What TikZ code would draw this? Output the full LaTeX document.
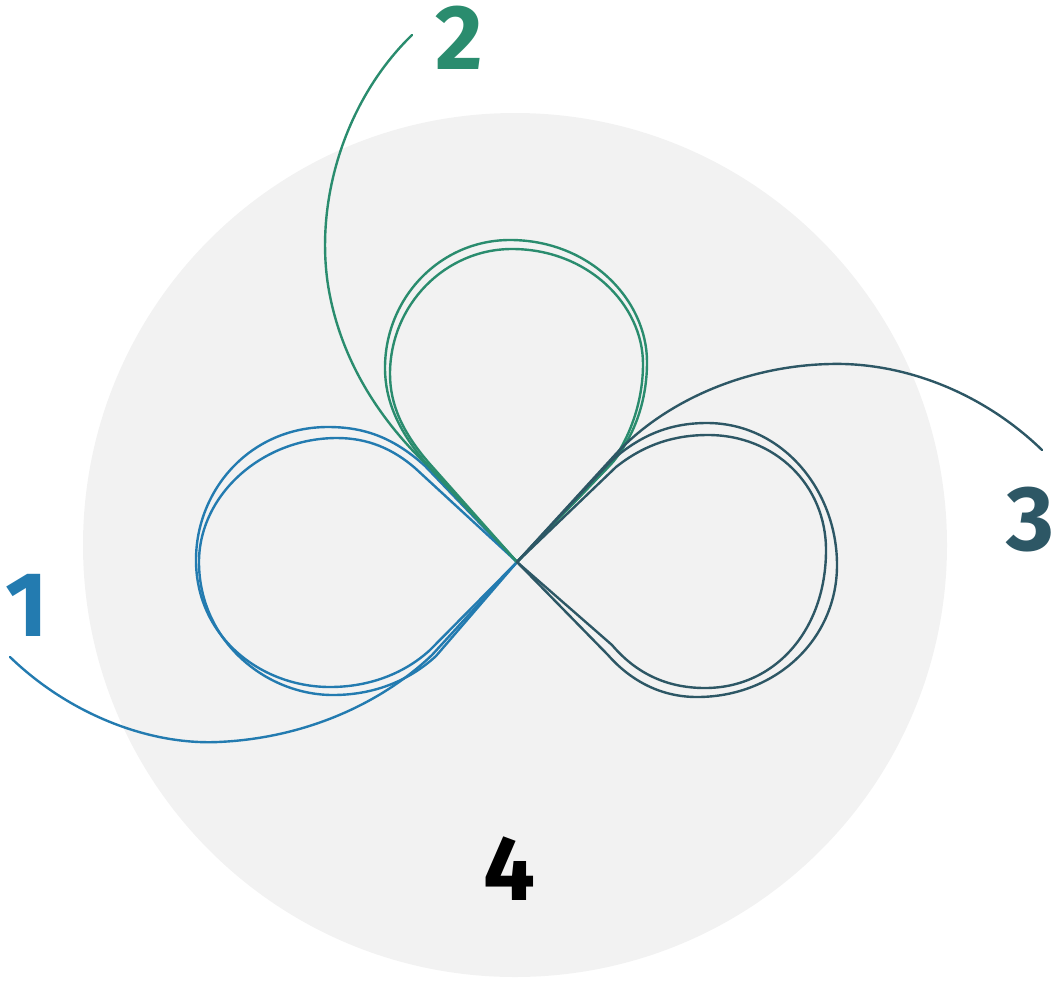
\documentclass[tikz,border=0pt]{standalone}
\usepackage{fontspec}
\setmainfont{Fira Sans}
\definecolor{cblue}{HTML}{237BB0}
\definecolor{cgreen}{HTML}{2A8C6E}
\definecolor{cteal}{HTML}{2D5765}
\definecolor{cbg}{HTML}{F2F2F2}
\tikzset{
  strand/.style={line width=2.4pt, line cap=round, line join=round},
  lbl/.style={inner sep=0pt, font=\fontsize{92}{92}\selectfont\bfseries}
}
\begin{document}
\begin{tikzpicture}[x=1pt,y=-1pt]
\useasboundingbox (0,0) rectangle (1056,980);
\fill[cbg] (515,545) circle[radius=432];
\coordinate (X) at (517,562);
% blue petal
\draw[strand,cblue] (X) -- (425,466) .. controls (392,436) and (362,427) .. (328,427)
  .. controls (250,427) and (196,490) .. (196,560)
  .. controls (196,636) and (260,687) .. (330,687)
  .. controls (370,687) and (405,673) .. (430,650) -- (X);
\draw[strand,cblue] (X) -- (415,468) .. controls (393,449) and (368,438) .. (337,438)
  .. controls (262,438) and (199,495) .. (199,562)
  .. controls (199,640) and (265,695) .. (333,695)
  .. controls (375,695) and (410,680) .. (436,656) -- (X);
\draw[strand,cblue] (10,657) .. controls (70,715) and (150,745) .. (218,742)
  .. controls (310,738) and (385,700) .. (432,655) -- (X);
% green petal
\draw[strand,cgreen] (X) -- (425,462) .. controls (398,430) and (385,400) .. (385,368)
  .. controls (385,298) and (440,240) .. (510,240)
  .. controls (590,240) and (647,300) .. (647,362)
  .. controls (647,400) and (635,435) .. (613,462) -- (X);
\draw[strand,cgreen] (X) -- (429,463) .. controls (403,433) and (390,405) .. (390,374)
  .. controls (390,305) and (445,249) .. (512,249)
  .. controls (588,249) and (643,305) .. (643,364)
  .. controls (643,400) and (631,437) .. (609,466) -- (X);
\draw[strand,cgreen] (412,35) .. controls (345,100) and (315,200) .. (328,285)
  .. controls (340,360) and (380,420) .. (428,466) -- (X);
% teal petal
\draw[strand,cteal] (X) -- (610,462) .. controls (640,435) and (670,423) .. (707,423)
  .. controls (782,423) and (837,490) .. (837,565)
  .. controls (837,640) and (775,697) .. (697,697)
  .. controls (660,697) and (630,680) .. (608,655) -- (X);
\draw[strand,cteal] (X) -- (616,467) .. controls (645,444) and (675,435) .. (708,435)
  .. controls (775,435) and (826,485) .. (826,550)
  .. controls (826,630) and (775,688) .. (705,688)
  .. controls (665,688) and (635,672) .. (612,645) -- (X);
\draw[strand,cteal] (1042,450) .. controls (980,390) and (900,362) .. (830,364)
  .. controls (740,366) and (660,405) .. (614,456) -- (X);
% labels
\node[lbl,text=cblue] (l1) at (27,605) {1};
\node[lbl,text=cgreen] (l2) at (459,38) {2};
\node[lbl,text=cteal] (l3) at (1030,520) {3};
\node[lbl,text=black] (l4) at (509,869) {4};
\end{tikzpicture}
\end{document}
